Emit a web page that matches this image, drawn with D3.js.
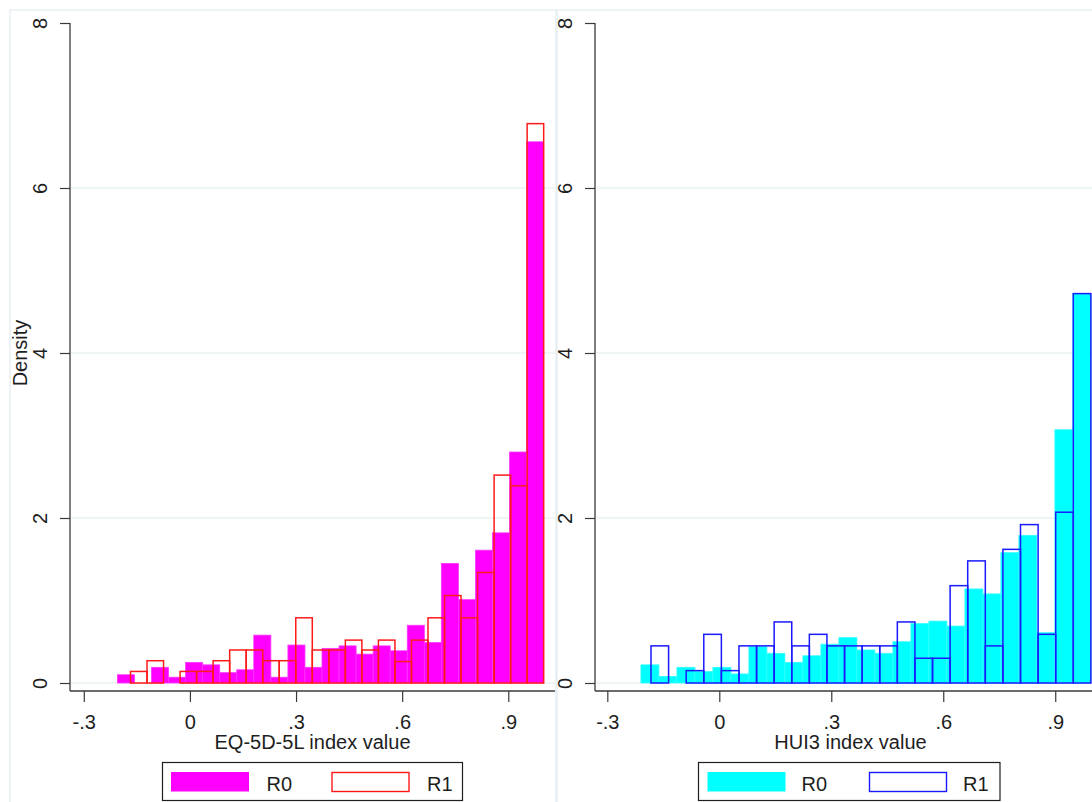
<!DOCTYPE html>
<html>
<head>
<meta charset="utf-8">
<script src="https://cdn.jsdelivr.net/npm/d3@7"></script>
<style>
  html, body { margin: 0; padding: 0; background: #ffffff; }
  svg { display: block; }
  text { font-family: "Liberation Sans", Arial, sans-serif; fill: #1e1e1e; }
</style>
</head>
<body>
<svg id="chart" width="1092" height="802"></svg>
<script>
// ---------- data ----------
const xTickValues = [-0.3, 0, 0.3, 0.6, 0.9];
const xTickLabels = ["-.3", "0", ".3", ".6", ".9"];
const yTickValues = [0, 2, 4, 6, 8];
const yTickLabels = ["0", "2", "4", "6", "8"];
const gridValues = [0, 2, 4, 6];
const seriesNames = ["R0", "R1"];
const yTitle = "Density";
const eqTitle = "EQ-5D-5L index value";
const huiTitle = "HUI3 index value";

// EQ-5D-5L histograms (density per bin)
const eqR0Start = -0.205, eqR0Width = 0.0482;
const eqR0Density = [0.10, 0, 0.19, 0.07, 0.25, 0.22, 0.125, 0.16, 0.58, 0.07, 0.46, 0.19, 0.42,
                     0.45, 0.35, 0.45, 0.39, 0.70, 0.49, 1.45, 1.01, 1.61, 1.82, 2.80, 6.56];
const eqR1Start = -0.168, eqR1Width = 0.04672;
const eqR1Density = [0.14, 0.27, 0, 0.14, 0.14, 0.27, 0.40, 0.40, 0.27, 0.27, 0.79, 0.40, 0.40,
                     0.52, 0.40, 0.52, 0.26, 0.52, 0.79, 1.06, 0.79, 1.34, 2.52, 2.39, 6.78];

// HUI3 histograms (density per bin)
const huiR0Start = -0.210, huiR0Width = 0.04822;
const huiR0Density = [0.22, 0.08, 0.19, 0.14, 0.19, 0.11, 0.44, 0.36, 0.25, 0.33, 0.47, 0.55, 0.40,
                      0.36, 0.50, 0.72, 0.75, 0.69, 1.14, 1.08, 1.58, 1.79, 0.61, 3.07, 4.72];
const huiR1Start = -0.183, huiR1Width = 0.04714;
const huiR1Density = [0.45, 0, 0.15, 0.59, 0.15, 0.45, 0.45, 0.74, 0.45, 0.59, 0.45, 0.45, 0.45,
                      0.45, 0.74, 0.30, 0.30, 1.18, 1.48, 0.45, 1.62, 1.92, 0.59, 2.07, 4.72];

// ---------- drawing ----------
const svg = d3.select("#chart");
svg.append("rect").attr("width", 1092).attr("height", 802).attr("fill", "#ffffff");

function bins(start, width, values) {
  return values.map((v, i) => ({ x0: start + i * width, x1: start + (i + 1) * width, v }));
}

function panel(cfg) {
  const g = svg.append("g");
  // panel border
  g.append("rect")
    .attr("x", cfg.box[0]).attr("y", cfg.box[1])
    .attr("width", cfg.box[2]).attr("height", cfg.box[3])
    .attr("fill", "#ffffff").attr("stroke", "#e3ebee").attr("stroke-width", 1.2);

  const x = d3.scaleLinear().domain(cfg.xDomain).range(cfg.xRange);
  const y = d3.scaleLinear().domain([0, 8]).range([683, 23]);
  const axisY = 691;

  // gridlines
  g.selectAll(".grid").data(gridValues).join("line")
    .attr("x1", cfg.xRange[0] + 1).attr("x2", cfg.xRange[1])
    .attr("y1", d => y(d)).attr("y2", d => y(d))
    .attr("stroke", "#eaf1f4").attr("stroke-width", 1.3);

  // R0 filled bars
  g.selectAll(".r0").data(bins(cfg.r0Start, cfg.r0Width, cfg.r0)).join("rect")
    .filter(d => d.v > 0)
    .attr("x", d => x(d.x0)).attr("width", d => x(d.x1) - x(d.x0))
    .attr("y", d => y(d.v)).attr("height", d => y(0) - y(d.v))
    .attr("fill", cfg.fill).attr("stroke", cfg.fillEdge).attr("stroke-width", 0.8);

  // R1 outline bars
  g.selectAll(".r1").data(bins(cfg.r1Start, cfg.r1Width, cfg.r1)).join("rect")
    .filter(d => d.v > 0)
    .attr("x", d => x(d.x0)).attr("width", d => x(d.x1) - x(d.x0))
    .attr("y", d => y(d.v)).attr("height", d => y(0) - y(d.v))
    .attr("fill", "none").attr("stroke", cfg.line).attr("stroke-width", 1.5);

  // y axis
  const yAxis = d3.axisLeft(y).tickValues(yTickValues).tickSize(10).tickPadding(12)
    .tickFormat((d, i) => yTickLabels[i]);
  const ya = g.append("g").attr("transform", `translate(${cfg.xRange[0]},0)`).call(yAxis);
  ya.select(".domain").remove();
  ya.append("line").attr("x1", 0).attr("x2", 0).attr("y1", y(8)).attr("y2", axisY)
    .attr("stroke", "#3a3a3a").attr("stroke-width", 1.3);
  ya.selectAll(".tick line").attr("stroke", "#3a3a3a").attr("stroke-width", 1.2);
  ya.selectAll(".tick text")
    .attr("x", null).attr("dy", null)
    .attr("transform", `translate(${cfg.yLabelX - cfg.xRange[0]},0) rotate(-90)`)
    .attr("text-anchor", "middle")
    .style("font-size", "20px").style("font-family", '"Liberation Sans", Arial, sans-serif')
    .attr("fill", "#1e1e1e");

  // x axis
  const xAxis = d3.axisBottom(x).tickValues(xTickValues).tickSize(11).tickPadding(0)
    .tickFormat((d, i) => xTickLabels[i]);
  const xa = g.append("g").attr("transform", `translate(0,${axisY})`).call(xAxis);
  xa.select(".domain").remove();
  xa.append("line").attr("x1", cfg.xRange[0]).attr("x2", cfg.xRange[1]).attr("y1", 0).attr("y2", 0)
    .attr("stroke", "#3a3a3a").attr("stroke-width", 1.3);
  xa.selectAll(".tick line").attr("stroke", "#3a3a3a").attr("stroke-width", 1.2);
  xa.selectAll(".tick text").attr("y", 37.5).attr("dy", null)
    .style("font-size", "20px").style("font-family", '"Liberation Sans", Arial, sans-serif')
    .attr("fill", "#1e1e1e");

  // x title
  g.append("text").attr("x", (cfg.xRange[0] + cfg.xRange[1]) / 2).attr("y", 748.5)
    .attr("text-anchor", "middle").style("font-size", "20px").text(cfg.xTitle);

  // y title
  if (cfg.yTitle) {
    g.append("text").attr("transform", `translate(27,${y(4)}) rotate(-90)`)
      .attr("text-anchor", "middle").style("font-size", "20px").text(cfg.yTitle);
  }

  // legend
  const L = cfg.legend;
  g.append("rect").attr("x", L.x).attr("y", 762.5).attr("width", L.w).attr("height", 38)
    .attr("fill", "#ffffff").attr("stroke", "#1e1e1e").attr("stroke-width", 1.2);
  g.append("rect").attr("x", L.s0).attr("y", 772).attr("width", 78).attr("height", 19.5)
    .attr("fill", cfg.fill);
  g.append("text").attr("x", L.t0).attr("y", 790.5).style("font-size", "20px").text(seriesNames[0]);
  g.append("rect").attr("x", L.s1).attr("y", 772.5).attr("width", 77).attr("height", 19)
    .attr("fill", "#ffffff").attr("stroke", cfg.line).attr("stroke-width", 1.4);
  g.append("text").attr("x", L.t1).attr("y", 790.5).style("font-size", "20px").text(seriesNames[1]);
}

panel({
  box: [10, 10, 546, 800],
  xDomain: [-0.339, 1.032], xRange: [70, 555],
  yLabelX: 46.5,
  r0Start: eqR0Start, r0Width: eqR0Width, r0: eqR0Density,
  r1Start: eqR1Start, r1Width: eqR1Width, r1: eqR1Density,
  fill: "#ff00ff", fillEdge: "#ff33ff", line: "#ff1a1a",
  xTitle: eqTitle, yTitle: yTitle,
  legend: { x: 162.5, w: 300, s0: 171, t0: 266.5, s1: 332, t1: 427 }
});

panel({
  box: [557, 10, 560, 800],
  xDomain: [-0.333, 1.036], xRange: [595, 1106],
  yLabelX: 572,
  r0Start: huiR0Start, r0Width: huiR0Width, r0: huiR0Density,
  r1Start: huiR1Start, r1Width: huiR1Width, r1: huiR1Density,
  fill: "#00ffff", fillEdge: "#33ffff", line: "#1a1aff",
  xTitle: huiTitle, yTitle: null,
  legend: { x: 698.5, w: 301.5, s0: 707.5, t0: 801.5, s1: 869.5, t1: 963 }
});
</script>
</body>
</html>
